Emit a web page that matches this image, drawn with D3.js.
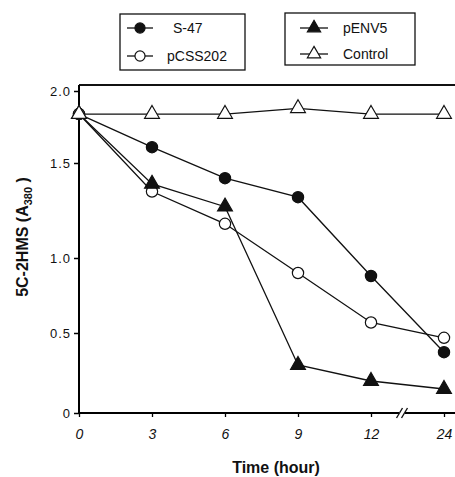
<!DOCTYPE html>
<html>
<head>
<meta charset="utf-8">
<script src="https://cdn.jsdelivr.net/npm/d3@7"></script>
<style>
  body { margin: 0; background: #fff; }
  text { font-family: "Liberation Sans", Arial, sans-serif; fill: #111; }
</style>
</head>
<body>
<div id="chart"></div>
<script>
// data
const times = ["0", "3", "6", "9", "12", "24"];
const s47 = [1.84, 1.61, 1.42, 1.32, 0.88, 0.38];
const pcss202 = [1.84, 1.35, 1.18, 0.90, 0.57, 0.47];
const penv5 = [1.84, 1.39, 1.27, 0.30, 0.20, 0.15];
const control = [1.84, 1.84, 1.84, 1.88, 1.84, 1.84];
const yTicks = [0, 0.5, 1.0, 1.5, 2.0];
const yTickLabels = ["0", "0.5", "1.0", "1.5", "2.0"];

const W = 455, H = 477;

const svg = d3.select("#chart")
    .append("svg")
    .attr("width", W)
    .attr("height", H);

// x axis: categorical time points (axis is broken between 12 and 24)
const x = d3.scalePoint()
    .domain(times)
    .range([79, 444]);

// y axis: the scanned figure is slightly uneven, so the scale follows the tick spacing
const y = d3.scaleLinear()
    .domain([0, 0.5, 1.0, 1.5, 2.0])
    .range([413, 333, 258, 163, 91]);

// top frame line
svg.append("line")
    .attr("x1", 79).attr("x2", W)
    .attr("y1", 85).attr("y2", 85)
    .attr("stroke", "#111").attr("stroke-width", 1.8);

// y axis
const yAxis = svg.append("g")
    .attr("transform", "translate(79,0)")
    .call(d3.axisLeft(y).tickValues(yTicks)
        .tickFormat((d, i) => yTickLabels[i]).tickSize(5).tickPadding(3));
yAxis.select(".domain").attr("d", "M0,85V413").attr("stroke-width", 2);
yAxis.selectAll(".tick line").attr("stroke-width", 1.5);
yAxis.selectAll(".tick text")
    .style("font-size", "13px")
    .style("letter-spacing", "1px")
    .attr("fill", "#333");

// x axis
const xAxis = svg.append("g")
    .attr("transform", "translate(0,413)")
    .call(d3.axisBottom(x).tickSize(4).tickPadding(12));
xAxis.select(".domain").attr("d", "M79,0H" + W).attr("stroke-width", 2);
xAxis.selectAll(".tick line").attr("stroke-width", 1.3);
xAxis.selectAll(".tick text")
    .style("font-size", "14px")
    .style("font-style", "italic")
    .attr("fill", "#222");

// axis break mark //
const brk = svg.append("g").attr("transform", "translate(402,413)");
brk.append("rect").attr("x", -3).attr("y", -2).attr("width", 6).attr("height", 4).attr("fill", "#fff");
[-2.5, 2.5].forEach(dx => {
    brk.append("line")
        .attr("x1", dx - 3).attr("y1", 5)
        .attr("x2", dx + 3).attr("y2", -5)
        .attr("stroke", "#111").attr("stroke-width", 1.4);
});

// axis titles
const yTitle = svg.append("text")
    .attr("transform", "translate(28,237) rotate(-90)")
    .attr("text-anchor", "middle")
    .style("font-size", "16px")
    .style("font-weight", "bold");
yTitle.append("tspan").text("5C-2HMS (A");
yTitle.append("tspan").attr("dy", 4).style("font-size", "11px").text("380");
yTitle.append("tspan").attr("dy", -4).text(" )");

svg.append("text")
    .attr("x", 276).attr("y", 473)
    .attr("text-anchor", "middle")
    .style("font-size", "16px")
    .style("font-weight", "bold")
    .text("Time (hour)");

// series
const series = [
    {name: "S-47", values: s47, shape: d3.symbolCircle, size: 100, fill: "#111"},
    {name: "pCSS202", values: pcss202, shape: d3.symbolCircle, size: 100, fill: "#fff"},
    {name: "pENV5", values: penv5, shape: d3.symbolTriangle, size: 95, fill: "#111"},
    {name: "Control", values: control, shape: d3.symbolTriangle, size: 95, fill: "#fff"}
];

const line = d3.line()
    .x((d, i) => x(times[i]))
    .y(d => y(d));

svg.append("g").attr("class", "lines")
    .selectAll("path")
    .data(series)
    .join("path")
    .attr("d", d => line(d.values))
    .attr("fill", "none")
    .attr("stroke", "#111")
    .attr("stroke-width", 1.3);

svg.append("g").attr("class", "markers")
    .selectAll("g")
    .data(series)
    .join("g")
    .selectAll("path")
    .data(d => d.values.map((v, i) => ({v: v, t: times[i], s: d})))
    .join("path")
    .attr("transform", d => `translate(${x(d.t)},${y(d.v)})`)
    .attr("d", d => d3.symbol().type(d.s.shape).size(d.s.size)())
    .attr("fill", d => d.s.fill)
    .attr("stroke", "#111")
    .attr("stroke-width", 1.2);

// legends
const legendBoxes = [
    {x: 120, y: 14, w: 125, h: 56, items: [series[0], series[1]], tx: [173, 167], ly: [28, 56], lx: [127, 153]},
    {x: 285, y: 13, w: 130, h: 52, items: [series[2], series[3]], tx: [343, 343], ly: [28, 54], lx: [300, 328]}
];

legendBoxes.forEach(b => {
    const g = svg.append("g");
    g.append("rect")
        .attr("x", b.x).attr("y", b.y)
        .attr("width", b.w).attr("height", b.h)
        .attr("fill", "#fff")
        .attr("stroke", "#111")
        .attr("stroke-width", 1.3);
    b.items.forEach((s, i) => {
        const cy = b.ly[i];
        const cx = (b.lx[0] + b.lx[1]) / 2;
        g.append("line")
            .attr("x1", b.lx[0]).attr("x2", b.lx[1])
            .attr("y1", cy).attr("y2", cy)
            .attr("stroke", "#111").attr("stroke-width", 1.3);
        g.append("path")
            .attr("transform", `translate(${cx},${cy})`)
            .attr("d", d3.symbol().type(s.shape).size(s.size * 0.8)())
            .attr("fill", s.fill)
            .attr("stroke", "#111")
            .attr("stroke-width", 1.2);
        g.append("text")
            .attr("x", b.tx[i]).attr("y", cy + 5)
            .style("font-size", "14px")
            .text(s.name);
    });
});
</script>
</body>
</html>
